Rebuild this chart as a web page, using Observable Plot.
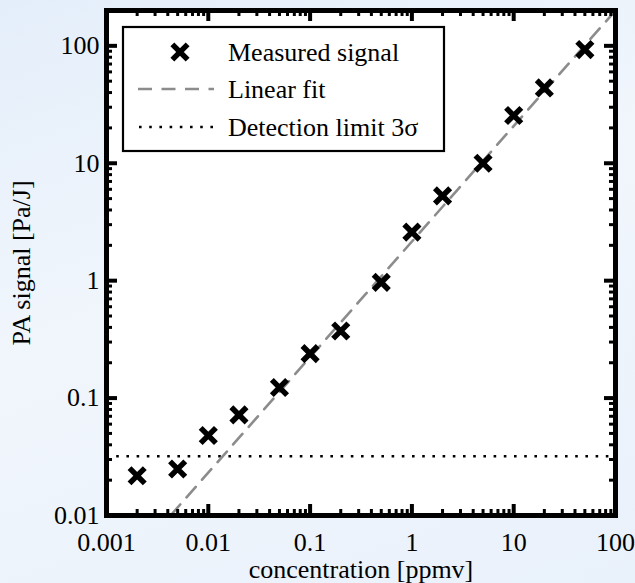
<!DOCTYPE html>
<html>
<head>
<meta charset="utf-8">
<script src="https://cdn.jsdelivr.net/npm/d3@7"></script>
<script src="https://cdn.jsdelivr.net/npm/@observablehq/plot@0.6"></script>
<style>
  html, body { margin: 0; padding: 0; }
  body { width: 635px; height: 583px; background: linear-gradient(160deg, #e4eefa 0%, #f1f6fc 45%, #e9f1fb 100%); overflow: hidden; }
  #chart { position: relative; width: 635px; height: 583px; }
  svg { font-family: "Liberation Serif", "Times New Roman", serif; }
</style>
</head>
<body>
<div id="chart"></div>
<script>
// ---- data ----
const concentration = [0.002, 0.005, 0.01, 0.02, 0.05, 0.1, 0.2, 0.5, 1, 2, 5, 10, 20, 50];
const signal = [0.0218, 0.0249, 0.048, 0.072, 0.123, 0.239, 0.373, 0.967, 2.59, 5.27, 10.0, 25.5, 43.8, 93];
const fitX = [0.0043, 100];
const fitY = [0.0101, 200];
const detectionLimit = 0.032;
const xTicks = [0.001, 0.01, 0.1, 1, 10, 100];
const yTicks = [0.01, 0.1, 1, 10, 100];
const xDomain = [0.001, 100];
const yDomain = [0.01, 200];
const legendLabels = ["Measured signal", "Linear fit", "Detection limit 3\u03c3"];

const W = 635, H = 583;
const mL = 106, mR = 20, mT = 10, mB = 68;
const pW = W - mL - mR, pH = H - mT - mB;
const majLen = 11, minLen = 6;

const points = concentration.map((c, i) => ({c, s: signal[i]}));
const fit = fitX.map((x, i) => ({x, y: fitY[i]}));
const minorX = d3.scaleLog().domain(xDomain).ticks().filter(t => !xTicks.includes(t));
const minorY = d3.scaleLog().domain(yDomain).ticks().filter(t => !yTicks.includes(t));
const fmt = d => String(d);

const chart = Plot.plot({
  width: W, height: H,
  marginLeft: mL, marginRight: mR, marginTop: mT, marginBottom: mB,
  style: {background: "transparent", fontFamily: "Liberation Serif", fontSize: "26px", color: "black"},
  x: {type: "log", domain: xDomain},
  y: {type: "log", domain: yDomain},
  marks: [
    Plot.frame({fill: "white", stroke: "none"}),
    Plot.ruleY([detectionLimit], {stroke: "black", strokeWidth: 2.6, strokeDasharray: "2.6,7.6"}),
    Plot.line(fit, {x: "x", y: "y", stroke: "#8c8c8c", strokeWidth: 2.6, strokeDasharray: "14,9.5"}),
    Plot.dot(points, {x: "c", y: "s", symbol: "times", r: 7, stroke: "black", strokeWidth: 5.5}),
    // ticks: bottom / top
    Plot.tickX(xTicks, {x: d => d, insetTop: pH - majLen, strokeWidth: 4, stroke: "black"}),
    Plot.tickX(minorX, {x: d => d, insetTop: pH - minLen, strokeWidth: 3, stroke: "black"}),
    Plot.tickX(xTicks, {x: d => d, insetBottom: pH - majLen, strokeWidth: 4, stroke: "black"}),
    Plot.tickX(minorX, {x: d => d, insetBottom: pH - minLen, strokeWidth: 3, stroke: "black"}),
    // ticks: left / right
    Plot.tickY(yTicks, {y: d => d, insetRight: pW - majLen, strokeWidth: 4, stroke: "black"}),
    Plot.tickY(minorY, {y: d => d, insetRight: pW - minLen, strokeWidth: 3, stroke: "black"}),
    Plot.tickY(yTicks, {y: d => d, insetLeft: pW - majLen, strokeWidth: 4, stroke: "black"}),
    Plot.tickY(minorY, {y: d => d, insetLeft: pW - minLen, strokeWidth: 3, stroke: "black"}),
    Plot.frame({stroke: "black", strokeWidth: 5}),
    Plot.axisX(xTicks, {tickSize: 0, tickPadding: 17, tickFormat: fmt, fontSize: 26,
      label: "concentration [ppmv]", labelAnchor: "center", labelArrow: "none", labelOffset: 62}),
    Plot.axisY(yTicks, {tickSize: 0, tickPadding: 7, tickFormat: fmt, fontSize: 26,
      label: "PA signal [Pa/J]", labelAnchor: "center", labelArrow: "none", labelOffset: 95})
  ]
});
document.getElementById("chart").appendChild(chart);

// ---- legend (drawn inside the plot svg) ----
const svg = d3.select(chart);
const g = svg.append("g").attr("font-family", "Liberation Serif").attr("font-size", 26)
  .attr("text-anchor", "start");
g.append("rect").attr("x", 123).attr("y", 27).attr("width", 321).attr("height", 124)
  .attr("fill", "white").attr("stroke", "black").attr("stroke-width", 2.2);
const rowsY = [52, 89, 127];
g.append("path").attr("transform", `translate(180,${rowsY[0]})`)
  .attr("d", d3.symbol(d3.symbolTimes, Math.PI * 7 * 7)())
  .attr("fill", "none").attr("stroke", "black").attr("stroke-width", 5.5);
g.append("line").attr("x1", 138).attr("x2", 214).attr("y1", rowsY[1]).attr("y2", rowsY[1])
  .attr("stroke", "#8c8c8c").attr("stroke-width", 2.6).attr("stroke-dasharray", "14,9.5");
g.append("line").attr("x1", 139).attr("x2", 214).attr("y1", rowsY[2]).attr("y2", rowsY[2])
  .attr("stroke", "black").attr("stroke-width", 2.6).attr("stroke-dasharray", "2.6,7.6");
legendLabels.forEach((t, i) => {
  g.append("text").attr("x", 228).attr("y", rowsY[i]).attr("dy", "0.33em")
    .attr("text-anchor", "start").attr("fill", "black").text(t);
});
</script>
</body>
</html>
